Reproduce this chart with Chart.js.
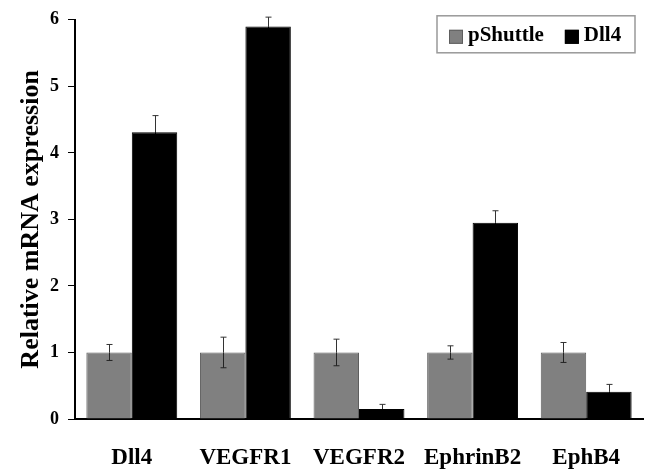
<!DOCTYPE html>
<html>
<head>
<meta charset="utf-8">
<script src="https://cdn.jsdelivr.net/npm/chart.js@4"></script>
<style>
  html, body { margin: 0; padding: 0; background: #fff; }
  #wrap { width: 645px; height: 469px; }
</style>
</head>
<body>
<div id="wrap"><canvas id="expr"></canvas></div>
<script>
const genes = ['Dll4', 'VEGFR1', 'VEGFR2', 'EphrinB2', 'EphB4'];
const pShuttle = [1, 1, 1, 1, 1];
const pShuttleErr = [0.12, 0.23, 0.2, 0.1, 0.15];
const dll4 = [4.31, 5.9, 0.15, 2.95, 0.41];
const dll4Err = [0.25, 0.14, 0.07, 0.18, 0.11];
const yTicks = [0, 1, 2, 3, 4, 5, 6];

const serif = '"Liberation Serif", "Times New Roman", serif';

// error bars drawn from the bar elements and the y scale
const errorBars = {
  id: 'errorBars',
  afterDatasetsDraw(chart) {
    const ctx = chart.ctx;
    const y = chart.scales.y;
    const errs = [pShuttleErr, dll4Err];
    ctx.save();
    ctx.lineWidth = 1;
    chart.data.datasets.forEach((ds, i) => {
      chart.getDatasetMeta(i).data.forEach((bar, j) => {
        const v = ds.data[j], e = errs[i][j];
        const top = y.getPixelForValue(v + e);
        const mid = y.getPixelForValue(v);
        const bot = y.getPixelForValue(v - e);
        const x = Math.round(bar.x) + 0.5;
        ctx.strokeStyle = '#333';
        ctx.beginPath();
        ctx.moveTo(x, top); ctx.lineTo(x, mid);
        ctx.moveTo(x - 3, top); ctx.lineTo(x + 3, top);
        ctx.stroke();
        // lower half sits inside the bar: same ink as the bar's darkest part
        ctx.strokeStyle = ds.backgroundColor === '#000000' ? '#000' : '#222';
        ctx.beginPath();
        ctx.moveTo(x, mid); ctx.lineTo(x, bot);
        ctx.moveTo(x - 3, bot); ctx.lineTo(x + 3, bot);
        ctx.stroke();
      });
    });
    ctx.restore();
  }
};

// boxed legend in the top right corner of the plot
const boxLegend = {
  id: 'boxLegend',
  afterDraw(chart) {
    const ctx = chart.ctx;
    const a = chart.chartArea;
    const left = a.right - 206, top = a.top - 4;
    ctx.save();
    ctx.fillStyle = '#fff';
    ctx.fillRect(left, top, 198, 37);
    ctx.strokeStyle = '#999';
    ctx.lineWidth = 1.5;
    ctx.strokeRect(left, top, 198, 37);
    ctx.font = 'bold 21px ' + serif;
    ctx.textBaseline = 'middle';
    let x = left + 12;
    chart.data.datasets.forEach(ds => {
      ctx.fillStyle = ds.backgroundColor;
      ctx.fillRect(x, top + 14, 14, 14);
      ctx.strokeStyle = ds.borderColor;
      ctx.lineWidth = 1;
      ctx.strokeRect(x + 0.5, top + 14.5, 13, 13);
      ctx.fillStyle = '#000';
      ctx.fillText(ds.label, x + 19, top + 20);
      x += 19 + ctx.measureText(ds.label).width + 21;
    });
    ctx.restore();
  }
};

new Chart(document.getElementById('expr'), {
  type: 'bar',
  data: {
    labels: genes,
    datasets: [
      {
        label: 'pShuttle',
        data: pShuttle,
        backgroundColor: '#808080',
        borderColor: '#5e5e5e',
        borderWidth: 1
      },
      {
        label: 'Dll4',
        data: dll4,
        backgroundColor: '#000000',
        borderColor: '#000000',
        borderWidth: 1
      }
    ]
  },
  options: {
    responsive: true,
    maintainAspectRatio: false,
    animation: false,
    layout: { padding: { top: 15, right: 2, left: 0, bottom: 0 } },
    categoryPercentage: 0.8,
    barPercentage: 1,
    plugins: {
      legend: { display: false },
      tooltip: { enabled: false }
    },
    scales: {
      x: {
        grid: { display: false },
        border: { display: true, color: '#000', width: 2 },
        ticks: {
          color: '#000',
          padding: 17,
          font: { family: serif, size: 23, weight: 'bold' }
        },
        afterFit(s) { s.height = 50; }
      },
      y: {
        min: 0,
        max: 6,
        afterBuildTicks(s) { s.ticks = yTicks.map(v => ({ value: v })); },
        grid: {
          display: true,
          drawOnChartArea: false,
          drawTicks: true,
          tickLength: 7,
          color: '#000',
          lineWidth: 1
        },
        border: { display: true, color: '#000', width: 2 },
        ticks: {
          color: '#000',
          padding: 9,
          font: { family: serif, size: 18, weight: 'bold' }
        },
        title: {
          display: true,
          text: 'Relative mRNA expression',
          color: '#000',
          padding: { top: 16, bottom: 0 },
          font: { family: serif, size: 26, weight: 'bold' }
        },
        afterFit(s) { s.width = 75; }
      }
    }
  },
  plugins: [errorBars, boxLegend]
});
</script>
</body>
</html>
